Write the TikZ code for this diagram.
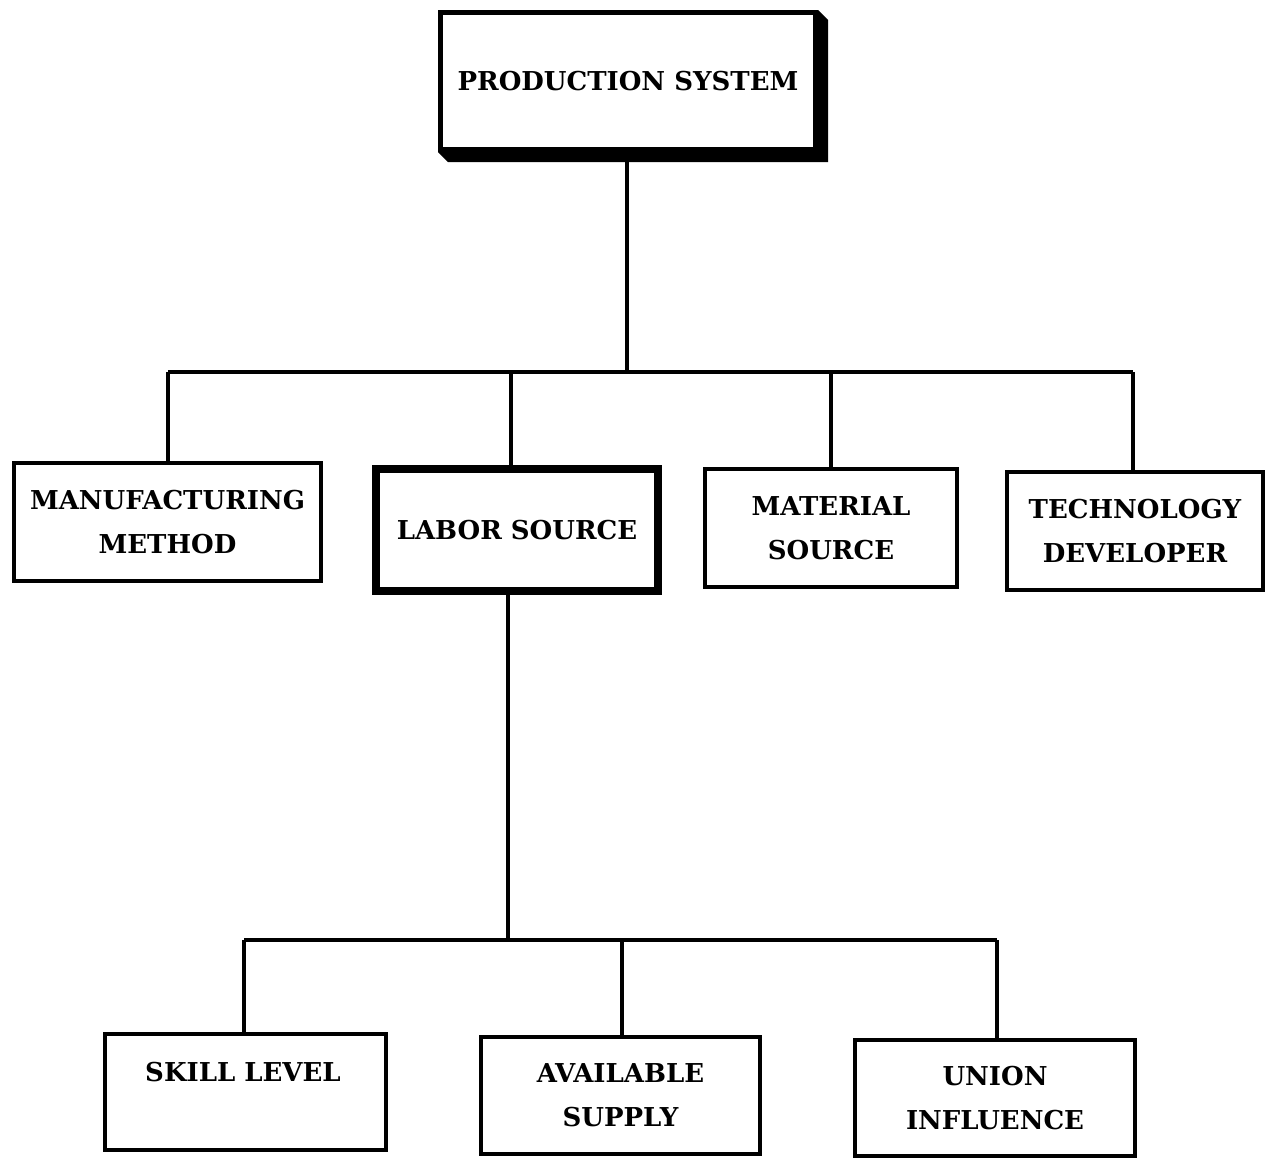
\documentclass[tikz,border=0pt]{standalone}
\usepackage{fontspec}
\setmainfont{DejaVu Serif}
\usetikzlibrary{calc}
\begin{document}
\begin{tikzpicture}[x=1pt,y=-1pt,
  box/.style={draw=black, line width=4pt, fill=white, rectangle, inner sep=0pt,
    align=center, font=\bfseries\fontsize{26}{44}\selectfont},
  heavybox/.style={box, line width=8pt},
  lbl/.style={inner sep=0pt, align=center, font=\bfseries\fontsize{26}{44}\selectfont},
  wire/.style={draw=black, line width=3.5pt}]
\useasboundingbox (0,0) rectangle (1267,1160);
\fill[white] (0,0) rectangle (1267,1160);

% top level
\node[box, line width=5pt, minimum width=375pt, minimum height=137pt] (ps) at (628,81) {PRODUCTION SYSTEM};
% extruded shadow on the right and bottom sides
\fill[black] (ps.north east) -- ($(ps.north east)+(10,10)$) -- ($(ps.south east)+(10,10)$)
  -- ($(ps.south west)+(10,10)$) -- (ps.south west) -- (ps.south east) -- cycle;

% second level
\node[box, minimum width=307pt, minimum height=118pt] (mm) at (167.5,522) {MANUFACTURING\\METHOD};
\node[heavybox, minimum width=282pt, minimum height=122pt] (ls) at (517,530) {LABOR SOURCE};
\node[box, minimum width=252pt, minimum height=118pt] (ms) at (831,528) {MATERIAL\\SOURCE};
\node[box, minimum width=256pt, minimum height=118pt] (td) at (1135,531) {TECHNOLOGY\\DEVELOPER};

% third level
\node[box, minimum width=281pt, minimum height=116pt] (sl) at (245.5,1092) {};
\node[lbl] (slt) at (243,1072) {SKILL LEVEL};
\node[box, minimum width=279pt, minimum height=117pt] (as) at (620.5,1095) {AVAILABLE\\SUPPLY};
\node[box, minimum width=280pt, minimum height=116pt] (ui) at (995,1098) {UNION\\INFLUENCE};

% first bus
\coordinate (busa) at (627,372);
\coordinate (busaL) at (168,372);
\coordinate (busaR) at (1133,372);
\draw[wire] (ps.south -| busa) -- (busa);
\draw[wire] (busaL) -- (busaR);
\draw[wire] (busaL) -- (busaL |- mm.north);
\draw[wire] (511,372) -- ([xshift=-6pt]ls.north);
\draw[wire] (busa -| ms.north) -- (ms.north);
\draw[wire] (busaR) -- (busaR |- td.north);

% second bus
\coordinate (busb) at (508,940);
\coordinate (busbL) at (244,940);
\coordinate (busbR) at (997,940);
\draw[wire] ([xshift=-9pt]ls.south) -- (busb);
\draw[wire] (busbL) -- (busbR);
\draw[wire] (busbL) -- (busbL |- sl.north);
\draw[wire] (622,940) -- (622,0 |- as.north);
\draw[wire] (busbR) -- (busbR |- ui.north);
\end{tikzpicture}
\end{document}
